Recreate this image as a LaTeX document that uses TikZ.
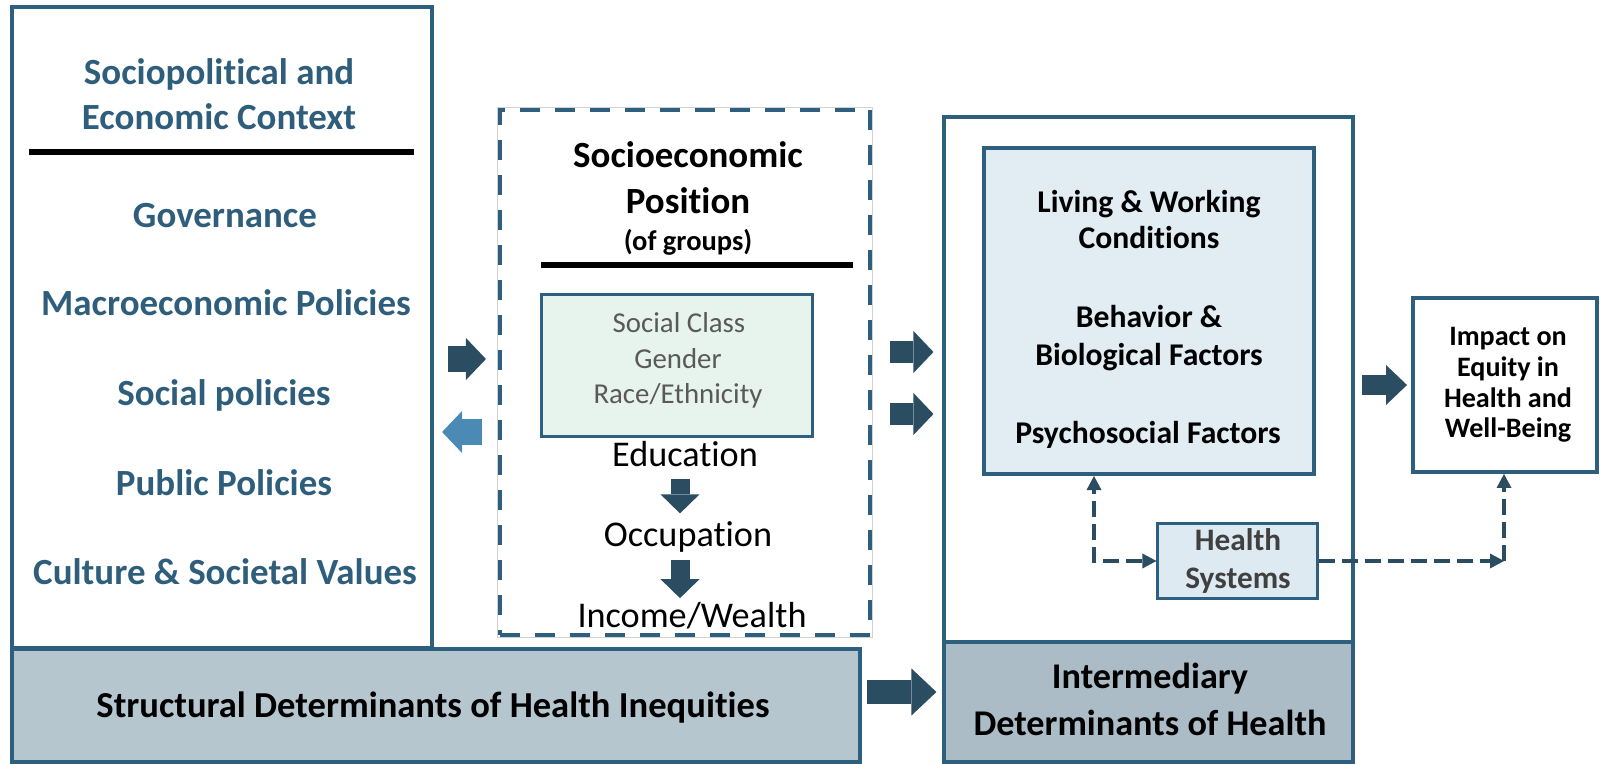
\documentclass[tikz,border=0pt]{standalone}
\usepackage{fontspec}
\setmainfont{Carlito}[RawFeature={-liga;-clig;-calt;-dlig}]
\usetikzlibrary{arrows.meta}
\definecolor{edge}{HTML}{2F5F7E}
\definecolor{arrdark}{HTML}{2B4D62}
\definecolor{arrlight}{HTML}{4A8AB5}
\definecolor{ctxtext}{HTML}{2F5E7C}
\definecolor{socfill}{HTML}{E7F4ED}
\definecolor{condfill}{HTML}{E1ECF3}
\definecolor{hsfill}{HTML}{DEEAF1}
\definecolor{structfill}{HTML}{B5C6CF}
\definecolor{intfill}{HTML}{ABBCC6}
\definecolor{socgrey}{HTML}{595959}
\definecolor{hsgrey}{HTML}{404040}
\begin{document}
\begin{tikzpicture}[x=0.01cm, y=-0.01cm,
    box/.style={draw=edge, line width=1.1pt, inner sep=0pt},
    txt/.style={anchor=base, inner sep=0pt},
    big/.style={font=\fontsize{10.5}{12}\selectfont\bfseries},
    mid/.style={font=\fontsize{9}{11}\selectfont\bfseries},
    reg/.style={font=\fontsize{10.3}{12}\selectfont},
    blk/.style={draw=arrdark, line width=0.25cm, -{Triangle[length=0.2cm, width=0.42cm, line width=0pt]}},
    blkdown/.style={draw=arrdark, line width=0.19cm, -{Triangle[length=0.19cm, width=0.39cm, line width=0pt]}},
    dsh/.style={draw=arrdark, line width=0.95pt, dash pattern=on 0.16cm off 0.07cm,
        >={Triangle[length=0.14cm, width=0.15cm, line width=0pt]}}]
\useasboundingbox (0,0) rectangle (1600,764);
% left column: context
\node[box, minimum width=4.195cm, minimum height=6.405cm] (ctx) at (221.75,327.75) {};
\node[txt, big, text=ctxtext] (ctxa) at (219,85) {Sociopolitical and};
\node[txt, big, text=ctxtext] (ctxb) at (219,130) {Economic Context};
\draw[line width=1.7pt] (29,152) -- (414,152);
\node[txt, big, text=ctxtext] (gov) at (225,228) {Governance};
\node[txt, big, text=ctxtext] (macro) at (226,316) {Macroeconomic Policies};
\node[txt, big, text=ctxtext] (socpol) at (224,406) {Social policies};
\node[txt, big, text=ctxtext] (pubpol) at (224,495) {Public Policies};
\node[txt, big, text=ctxtext] (cult) at (225,584) {Culture \& Societal Values};
\node[box, fill=structfill, minimum width=8.48cm, minimum height=1.13cm] (struct) at (436,705.5) {};
\node[txt, font=\fontsize{10.4}{12}\selectfont\bfseries] (structt) at (433,717) {Structural Determinants of Health Inequities};
% middle column: socioeconomic position
\node[box, dash pattern=on 0.2cm off 0.15cm, minimum width=3.7cm, minimum height=5.25cm] (sep) at (685,372.5) {};
\draw[gray!35, line width=0.3pt] (sep.north west) rectangle (sep.south east);
\node[txt, big] (sepa) at (688,168) {Socioeconomic};
\node[txt, big] (sepb) at (688,214) {Position};
\node[txt, font=\fontsize{8.1}{10}\selectfont\bfseries] (sepc) at (688,251) {(of groups)};
\draw[line width=1.7pt] (541,265) -- (853,265);
\node[box, line width=0.85pt, fill=socfill, minimum width=2.7cm, minimum height=1.41cm] (socbox) at (677,365.5) {};
\node[txt, text=socgrey, font=\fontsize{8.2}{10}\selectfont] (cls) at (679,333) {Social Class};
\node[txt, text=socgrey, font=\fontsize{8.2}{10}\selectfont] (gen) at (678,369) {Gender};
\node[txt, text=socgrey, font=\fontsize{8.2}{10}\selectfont] (race) at (678,403) {Race/Ethnicity};
\node[txt, reg] (edu) at (685,466) {Education};
\node[txt, reg] (occ) at (688,547) {Occupation};
\node[txt, reg] (inc) at (692,627) {Income/Wealth};
\coordinate (downx) at (680,0);
\draw[blkdown, shorten <=0.12cm, shorten >=0.08cm] (edu.south -| downx) -- (occ.north -| downx);
\draw[blkdown, shorten <=0.06cm, shorten >=0.03cm] (occ.south -| downx) -- (inc.north -| downx);
% right column: intermediary determinants
\node[box, minimum width=4.085cm, minimum height=5.25cm] (inter) at (1148.75,379.5) {};
\node[box, fill=condfill, minimum width=3.3cm, minimum height=3.26cm] (cond) at (1149,311) {};
\node[txt, mid] (conda) at (1149,213) {Living \& Working};
\node[txt, mid] (condb) at (1149,249) {Conditions};
\node[txt, mid] (condc) at (1149,328) {Behavior \&};
\node[txt, mid] (condd) at (1149,366) {Biological Factors};
\node[txt, mid] (conde) at (1148,443) {Psychosocial Factors};
\node[box, line width=0.85pt, fill=hsfill, minimum width=1.59cm, minimum height=0.74cm] (hs) at (1237.5,561) {};
\node[txt, text=hsgrey, font=\fontsize{8.9}{10}\selectfont\bfseries] (hsa) at (1238,550) {Health};
\node[txt, text=hsgrey, font=\fontsize{8.9}{10}\selectfont\bfseries] (hsb) at (1238,588) {Systems};
\node[box, fill=intfill, minimum width=4.085cm, minimum height=1.2cm] (intdet) at (1148.75,702) {};
\node[txt, font=\fontsize{10.3}{12}\selectfont\bfseries] (intdeta) at (1150,688) {Intermediary};
\node[txt, font=\fontsize{10.3}{12}\selectfont\bfseries] (intdetb) at (1150,735) {Determinants of Health};
% outcome
\node[box, minimum width=1.84cm, minimum height=1.74cm] (imp) at (1505,385) {};
\node[txt, font=\fontsize{8}{10}\selectfont\bfseries] (impa) at (1508,346) {Impact on};
\node[txt, font=\fontsize{8}{10}\selectfont\bfseries] (impb) at (1508,377) {Equity in};
\node[txt, font=\fontsize{8}{10}\selectfont\bfseries] (impc) at (1508,408) {Health and};
\node[txt, font=\fontsize{8}{10}\selectfont\bfseries] (impd) at (1508,438) {Well-Being};
% block arrows
\draw[blk, shorten <=0.145cm, shorten >=0.12cm] (ctx.east |- 0,359) -- (sep.west |- 0,359);
\draw[blk, draw=arrlight, shorten <=0.16cm, shorten >=0.085cm] (sep.west |- 0,432) -- (ctx.east |- 0,432);
\draw[blk, line width=0.22cm, shorten <=0.18cm, shorten >=0.09cm] (sep.east |- 0,352) -- (inter.west |- 0,352);
\draw[blk, line width=0.22cm, shorten <=0.18cm, shorten >=0.09cm] (sep.east |- 0,414) -- (inter.west |- 0,414);
\draw[blk, line width=0.19cm, -{Triangle[length=0.21cm, width=0.4cm, line width=0pt]}, shorten <=0.07cm, shorten >=0.04cm] (inter.east |- imp.west) -- (imp.west);
\draw[blk, line width=0.23cm, -{Triangle[length=0.25cm, width=0.47cm, line width=0pt]}, shorten <=0.05cm, shorten >=0.06cm] (struct.east |- 0,692) -- (intdet.west |- 0,692);
% health systems links
\coordinate (hsl) at (1094,561);
\coordinate (hsr) at (1504,561);
\draw[dsh, <->] (hs.west) -- (hsl) -- (hsl |- cond.south);
\draw[dsh, ->] (hs.east) -- (hsr);
\draw[dsh, ->] (hsr) -- (hsr |- imp.south);
\end{tikzpicture}
\end{document}
